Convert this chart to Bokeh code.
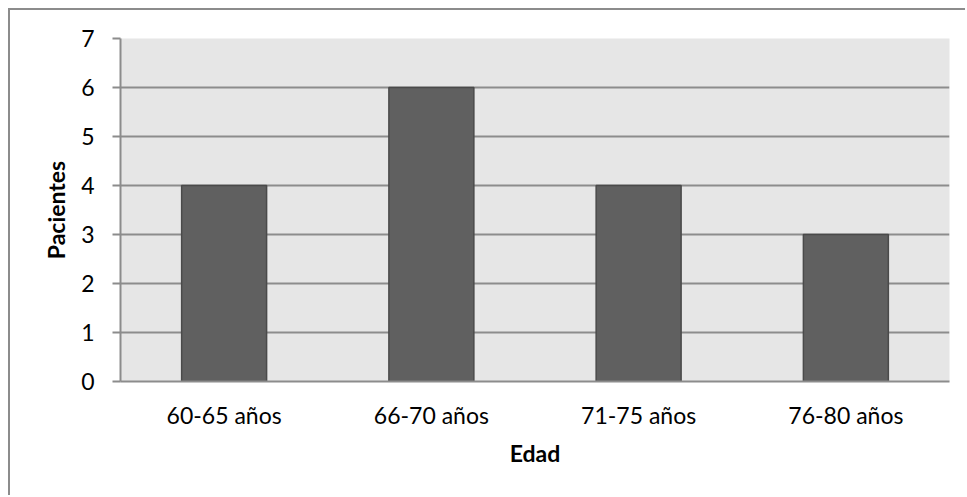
from bokeh.plotting import figure
from bokeh.models import FactorRange, Range1d, FixedTicker
from bokeh.embed import file_html
from bokeh.resources import INLINE

# Patients per age group
categories = ["60-65 años", "66-70 años", "71-75 años", "76-80 años"]
pacientes = [4, 6, 4, 3]
y_ticks = [0, 1, 2, 3, 4, 5, 6, 7]

FONT = "Lato"
GRID = "#8c8c8c"

p = figure(
    x_range=FactorRange(*categories, range_padding=0),
    y_range=Range1d(0, 7),
    width=957, height=487,
    output_backend="svg", toolbar_location=None,
    min_border_left=110, min_border_right=18,
    min_border_top=28, min_border_bottom=116,
)

# chart area border on the left and top edges
p.styles = {
    "margin-left": "8px",
    "margin-top": "8px",
    "border-left": f"2px solid {GRID}",
    "border-top": f"2px solid {GRID}",
}

p.vbar(x=categories, top=pacientes, width=0.41,
       fill_color="#606060", line_color="#4a4a4a", line_width=1.5)

p.background_fill_color = "#e6e6e6"
p.border_fill_color = "white"
p.outline_line_color = None

# horizontal gridlines only
p.xgrid.grid_line_color = None
p.ygrid.grid_line_color = GRID
p.ygrid.grid_line_width = 2
p.ygrid.level = "underlay"

# y axis
p.yaxis.ticker = FixedTicker(ticks=y_ticks)
p.yaxis.axis_line_color = GRID
p.yaxis.axis_line_width = 2
p.yaxis.major_tick_line_color = GRID
p.yaxis.major_tick_line_width = 2
p.yaxis.major_tick_out = 8
p.yaxis.major_tick_in = 0
p.yaxis.minor_tick_line_color = None
p.yaxis.major_label_standoff = 18
p.yaxis.axis_label = "Pacientes"
p.yaxis.axis_label_standoff = 8

# x axis
p.xaxis.axis_line_color = GRID
p.xaxis.axis_line_width = 2
p.xaxis.major_tick_line_color = None
p.xaxis.minor_tick_line_color = None
p.xaxis.major_label_standoff = 13
p.xaxis.axis_label = "Edad"
p.xaxis.axis_label_standoff = 7

for ax in (p.xaxis[0], p.yaxis[0]):
    ax.major_label_text_font = FONT
    ax.major_label_text_font_size = "23px"
    ax.major_label_text_color = "black"
    ax.axis_label_text_font = FONT
    ax.axis_label_text_font_size = "23px"
    ax.axis_label_text_font_style = "bold"
    ax.axis_label_text_color = "black"

open("out.html", "w").write(file_html(p, INLINE))
